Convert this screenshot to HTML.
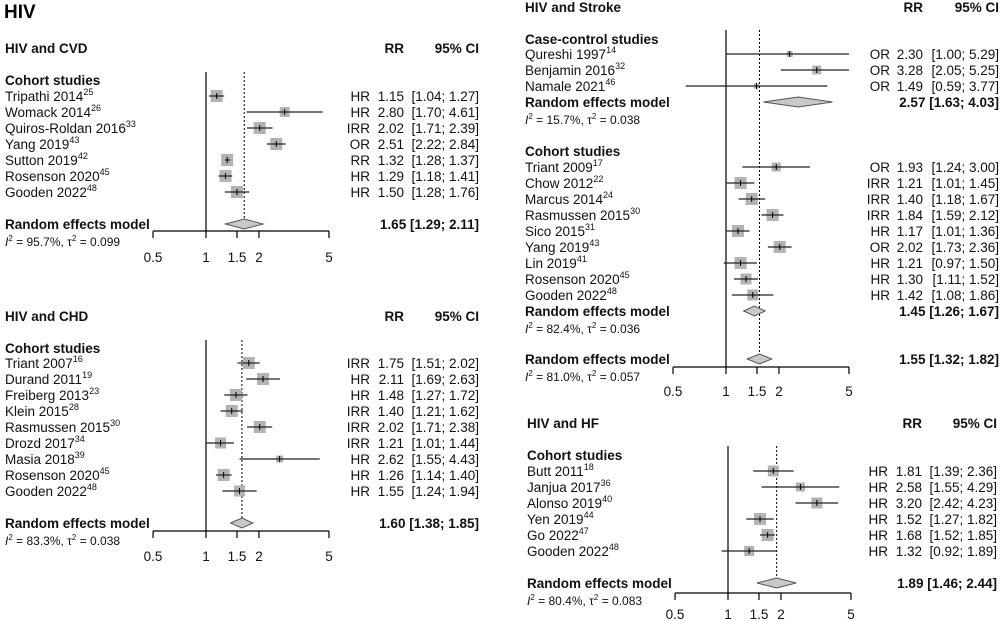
<!DOCTYPE html>
<html><head><meta charset="utf-8">
<style>
html,body{margin:0;padding:0;background:#fff;}
svg{display:block;font-family:"Liberation Sans",Arial,sans-serif;}
</style></head>
<body>
<svg id="chart" width="1000" height="621" viewBox="0 0 1000 621">
<text x="4" y="18" font-size="19" font-weight="bold">HIV</text>
</svg>
<script>
// ---- HIV and CVD ----
const cvdStudies=["Tripathi 2014","Womack 2014","Quiros-Roldan 2016","Yang 2019","Sutton 2019","Rosenson 2020","Gooden 2022"];
const cvdRefs=["25","26","33","43","42","45","48"];
const cvdTypes=["HR","HR","IRR","OR","RR","HR","HR"];
const cvdEst=[1.15,2.80,2.02,2.51,1.32,1.29,1.50];
const cvdLo=[1.04,1.70,1.71,2.22,1.28,1.18,1.28];
const cvdHi=[1.27,4.61,2.39,2.84,1.37,1.41,1.76];
const cvdW=[12,10,12,12,12,12,12];
const cvdPooled=[1.65,1.29,2.11];
// ---- HIV and CHD ----
const chdStudies=["Triant 2007","Durand 2011","Freiberg 2013","Klein 2015","Rasmussen 2015","Drozd 2017","Masia 2018","Rosenson 2020","Gooden 2022"];
const chdRefs=["16","19","23","28","30","34","39","45","48"];
const chdTypes=["IRR","HR","HR","IRR","IRR","IRR","HR","HR","HR"];
const chdEst=[1.75,2.11,1.48,1.40,2.02,1.21,2.62,1.26,1.55];
const chdLo=[1.51,1.69,1.27,1.21,1.71,1.01,1.55,1.14,1.24];
const chdHi=[2.02,2.63,1.72,1.62,2.38,1.44,4.43,1.40,1.94];
const chdW=[12,12,12,12,12,11,7,12,11];
const chdPooled=[1.60,1.38,1.85];
// ---- HIV and Stroke ----
const strCCStudies=["Qureshi 1997","Benjamin 2016","Namale 2021"];
const strCCRefs=["14","32","46"];
const strCCTypes=["OR","OR","OR"];
const strCCEst=[2.30,3.28,1.49];
const strCCLo=[1.00,2.05,0.59];
const strCCHi=[5.29,5.25,3.77];
const strCCW=[6,9,5];
const strCCPooled=[2.57,1.63,4.03];
const strCoStudies=["Triant 2009","Chow 2012","Marcus 2014","Rasmussen 2015","Sico 2015","Yang 2019","Lin 2019","Rosenson 2020","Gooden 2022"];
const strCoRefs=["17","22","24","30","31","43","41","45","48"];
const strCoTypes=["OR","IRR","IRR","IRR","HR","OR","HR","HR","HR"];
const strCoEst=[1.93,1.21,1.40,1.84,1.17,2.02,1.21,1.30,1.42];
const strCoLo=[1.24,1.01,1.18,1.59,1.01,1.73,0.97,1.11,1.08];
const strCoHi=[3.00,1.45,1.67,2.12,1.36,2.36,1.50,1.52,1.86];
const strCoW=[9,12,12,12,12,12,12,11,11];
const strCoPooled=[1.45,1.26,1.67];
const strPooled=[1.55,1.32,1.82];
// ---- HIV and HF ----
const hfStudies=["Butt 2011","Janjua 2017","Alonso 2019","Yen 2019","Go 2022","Gooden 2022"];
const hfRefs=["18","36","40","44","47","48"];
const hfTypes=["HR","HR","HR","HR","HR","HR"];
const hfEst=[1.81,2.58,3.20,1.52,1.68,1.32];
const hfLo=[1.39,1.55,2.42,1.27,1.52,0.92];
const hfHi=[2.36,4.29,4.23,1.82,1.85,1.89];
const hfW=[11,9,11,12,12,10];
const hfPooled=[1.89,1.46,2.44];
const tickVals=[0.5,1,1.5,2,5];
const tickLabels=["0.5","1","1.5","2","5"];

const svg=document.getElementById('chart');
const NS='http://www.w3.org/2000/svg';
function mk(tag,attrs,parent){const e=document.createElementNS(NS,tag);for(const k in attrs)e.setAttribute(k,attrs[k]);(parent||svg).appendChild(e);return e;}
function txt(x,y,s,opt,parent){const t=mk('text',{x:x,y:y,'font-size':opt.size||13.5,fill:'#111'},parent);if(opt.bold)t.setAttribute('font-weight','bold');if(opt.anchor)t.setAttribute('text-anchor',opt.anchor);t.textContent=s;return t;}
const K=76.4;
function fmt(v){return v.toFixed(2);}

function panel(cfg){
  const g=mk('g',{});
  
  
  const X=v=>cfg.x1+K*Math.log(v);
  const xmin=X(0.5),xmax=X(5);
  const t1=txt(cfg.lx,cfg.titleY,cfg.title,{bold:true},g);
  
  
  const h1=txt(cfg.valR,cfg.titleY,'RR',{bold:true,anchor:'end'},g);
  
  
  const h2=txt(cfg.ciR,cfg.titleY,'95% CI',{bold:true,anchor:'end'},g);
  
  
  const nl=mk('line',{x1:X(1),x2:X(1),y1:cfg.lineTop,y2:cfg.axisY,stroke:'#000','stroke-width':1.2},g);
  
  
  const dl=mk('line',{x1:X(cfg.overall[0]),x2:X(cfg.overall[0]),y1:cfg.lineTop,y2:cfg.overallY+5,stroke:'#000','stroke-width':1,'stroke-dasharray':'2,2'},g);
  
  
  cfg.groups.forEach(gr=>{
    const h=txt(cfg.lx,gr.headY,gr.head,{bold:true},g);
    
    
    gr.studies.forEach((s,i)=>{
      const y=gr.y0+i*16;
      const lbl=txt(cfg.lx,y+5,s,{},g);
      
      
      const sup=mk('tspan',{'font-size':9,dy:-6},lbl);sup.textContent=gr.refs[i];
      const lo=Math.max(gr.lo[i],0.5),hi=Math.min(gr.hi[i],5);
      const w=gr.w[i];
      const sq=mk('rect',{x:X(gr.est[i])-w/2,y:y-w/2,width:w,height:w,fill:'#b3b3b3'},g);
      
      
      const ci=mk('line',{x1:X(lo),x2:X(hi),y1:y,y2:y,stroke:'#222','stroke-width':1.2},g);
      
      
      const pt=mk('line',{x1:X(gr.est[i]),x2:X(gr.est[i]),y1:y-3,y2:y+3,stroke:'#000','stroke-width':1},g);
      
      
      const ty=txt(cfg.typeR,y+5,gr.types[i],{anchor:'end'},g);
      
      
      const va=txt(cfg.valR,y+5,fmt(gr.est[i]),{anchor:'end'},g);
      
      
      const cit=txt(cfg.ciR,y+5,'['+fmt(gr.lo[i])+'; '+fmt(gr.hi[i])+']',{anchor:'end'},g);
      
      
    });
    if(gr.pooled){diamond(gr.pooled,gr.reY,gr.i2);}
  });
  if(cfg.overallY){diamond(cfg.overall,cfg.overallY,cfg.overallI2);}
  function diamond(p,y,i2){
    const d=mk('polygon',{points:`${X(p[1])},${y} ${X(p[0])},${y-5} ${X(p[2])},${y} ${X(p[0])},${y+5}`,fill:'#c8c8c8',stroke:'#555','stroke-width':1},g);
    
    
    const l=txt(cfg.lx,y+5,'Random effects model',{bold:true},g);
    
    
    const v=txt(cfg.ciR,y+5,fmt(p[0])+' ['+fmt(p[1])+'; '+fmt(p[2])+']',{bold:true,anchor:'end'},g);
    
    
    const het=txt(cfg.lx,y+22,'',{size:12},g);
    
    
    const a=mk('tspan',{'font-style':'italic'},het);a.textContent='I';
    const b=mk('tspan',{dy:-5,'font-size':8},het);b.textContent='2';
    const c=mk('tspan',{dy:5},het);c.textContent=' = '+i2[0]+', \u03C4';
    const d2=mk('tspan',{dy:-5,'font-size':8},het);d2.textContent='2';
    const e=mk('tspan',{dy:5},het);e.textContent=' = '+i2[1];
  }
  const ax=mk('line',{x1:xmin,x2:xmax,y1:cfg.axisY,y2:cfg.axisY,stroke:'#000','stroke-width':1.2},g);
  
  
  tickVals.forEach((v,i)=>{
    const tk=mk('line',{x1:X(v),x2:X(v),y1:cfg.axisY,y2:cfg.axisY+7,stroke:'#000','stroke-width':1.2},g);
    
    
    const tl=txt(X(v),cfg.axisY+cfg.lblOff,tickLabels[i],{anchor:'middle'},g);
    
    
  });
}

panel({name:'hiv-cvd-panel',title:'HIV and CVD',titleY:53,lx:5,x1:206,typeR:370,valR:404,ciR:479,lineTop:72,axisY:231,lblOff:31,
  groups:[{head:'Cohort studies',headY:85,y0:96,studies:cvdStudies,refs:cvdRefs,types:cvdTypes,est:cvdEst,lo:cvdLo,hi:cvdHi,w:cvdW}],
  overall:cvdPooled,overallY:224,overallI2:['95.7%','0.099']});
panel({name:'hiv-chd-panel',title:'HIV and CHD',titleY:321,lx:5,x1:206,typeR:370,valR:404,ciR:479,lineTop:340,axisY:531,lblOff:30,
  groups:[{head:'Cohort studies',headY:353,y0:363,studies:chdStudies,refs:chdRefs,types:chdTypes,est:chdEst,lo:chdLo,hi:chdHi,w:chdW}],
  overall:chdPooled,overallY:523,overallI2:['83.3%','0.038']});
panel({name:'hiv-stroke-panel',title:'HIV and Stroke',titleY:12,lx:525,x1:726,typeR:890,valR:923,ciR:999,lineTop:30,axisY:367,lblOff:29,
  groups:[
    {head:'Case-control studies',headY:44,y0:54,studies:strCCStudies,refs:strCCRefs,types:strCCTypes,est:strCCEst,lo:strCCLo,hi:strCCHi,w:strCCW,pooled:strCCPooled,reY:102,i2:['15.7%','0.038']},
    {head:'Cohort studies',headY:156,y0:167,studies:strCoStudies,refs:strCoRefs,types:strCoTypes,est:strCoEst,lo:strCoLo,hi:strCoHi,w:strCoW,pooled:strCoPooled,reY:311,i2:['82.4%','0.036']}],
  overall:strPooled,overallY:359,overallI2:['81.0%','0.057']});
panel({name:'hiv-hf-panel',title:'HIV and HF',titleY:428,lx:527,x1:728,typeR:888,valR:922,ciR:997,lineTop:446,axisY:593,lblOff:26,
  groups:[{head:'Cohort studies',headY:460,y0:471,studies:hfStudies,refs:hfRefs,types:hfTypes,est:hfEst,lo:hfLo,hi:hfHi,w:hfW}],
  overall:hfPooled,overallY:583,overallI2:['80.4%','0.083']});
</script>
</body></html>
